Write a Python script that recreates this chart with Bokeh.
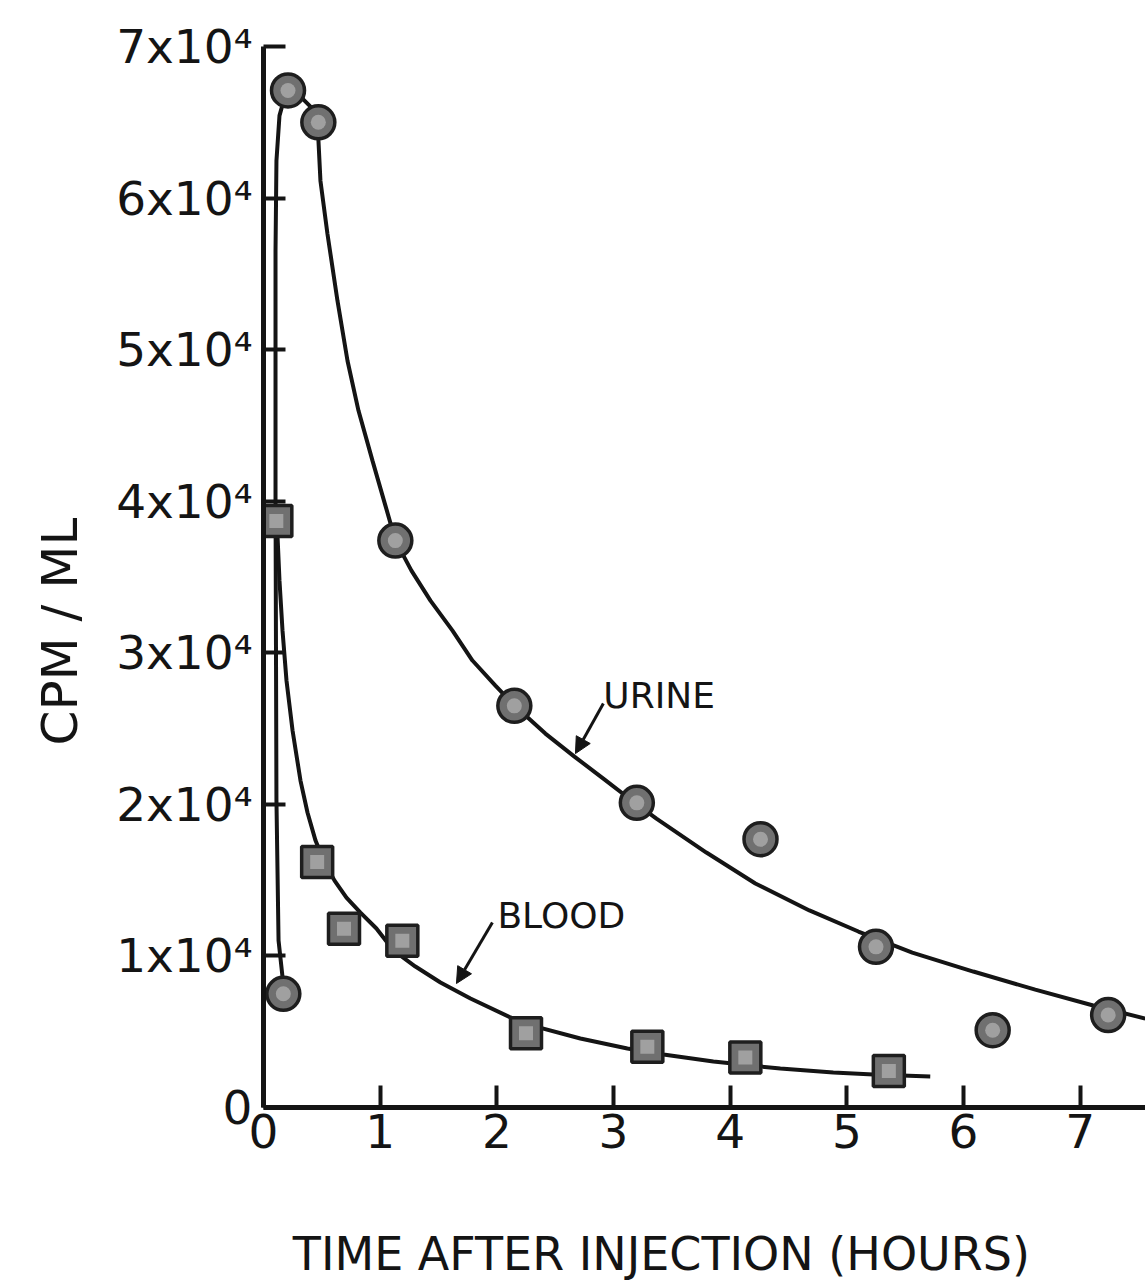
from bokeh.plotting import figure
from bokeh.layouts import column
from bokeh.models import FixedTicker, Label, Arrow, NormalHead, ColumnDataSource, Title
from bokeh.core.properties import value
from bokeh.embed import file_html
from bokeh.resources import INLINE

# ---- data ----
# Urine (circles): time in hours, CPM/ML
urine_t = [0.17, 0.21, 0.47, 1.13, 2.15, 3.20, 4.26, 5.25, 6.25, 7.24]
urine_cpm = [7500, 67100, 65000, 37400, 26500, 20100, 17700, 10600, 5100, 6100]

# Blood (squares)
blood_t = [0.11, 0.46, 0.69, 1.19, 2.25, 3.29, 4.13, 5.36]
blood_cpm = [38700, 16200, 11800, 11000, 4900, 4000, 3300, 2400]

# hand-drawn fitted curves
urine_curve_t = [0.171, 0.129, 0.111, 0.103, 0.103, 0.111, 0.137, 0.180, 0.231, 0.317,
                 0.403, 0.471, 0.471, 0.488, 0.548, 0.634, 0.720, 0.814, 0.934, 1.045,
                 1.131, 1.268, 1.431, 1.620, 1.791, 1.988, 2.151, 2.416, 2.665, 2.913,
                 3.145, 3.368, 3.796, 4.216, 4.679, 5.099, 5.561, 6.084, 6.615, 7.112,
                 7.558]
urine_curve_cpm = [8050, 11020, 20250, 40040, 56530, 62470, 65440, 66620, 67080, 66690,
                   66030, 65040, 63790, 61150, 57650, 53230, 49270, 45980, 42680, 39710,
                   37400, 35420, 33440, 31460, 29490, 27840, 26520, 24670, 23150, 21700,
                   20320, 19060, 16820, 14780, 13000, 11610, 10220, 8970, 7780, 6730,
                   5870]

blood_curve_t = [0.111, 0.120, 0.137, 0.163, 0.197, 0.249, 0.317, 0.377, 0.446, 0.523,
                 0.609, 0.711, 0.831, 0.968, 1.114, 1.302, 1.517, 1.774, 2.117, 2.262,
                 2.716, 3.119, 3.428, 3.856, 4.430, 4.884, 5.227, 5.715]
blood_curve_cpm = [38650, 37730, 34760, 31460, 28170, 24870, 21570, 19460, 17610, 16160,
                   14970, 13850, 12860, 11810, 10360, 9300, 8250, 7190, 5940, 5480,
                   4550, 3890, 3500, 3030, 2570, 2310, 2180, 2050]

x_ticks = [0, 1, 2, 3, 4, 5, 6, 7]
y_ticks = [0, 10000, 20000, 30000, 40000, 50000, 60000, 70000]
y_tick_labels = ["0", "1x10⁴", "2x10⁴", "3x10⁴", "4x10⁴", "5x10⁴", "6x10⁴", "7x10⁴"]

x_title = "TIME AFTER INJECTION (HOURS)"
y_title = "CPM / ML"

FONT = "DejaVu Sans"
INK = "#141414"

p = figure(width=1145, height=1190, x_range=(0, 7.56), y_range=(0, 70000),
           output_backend="svg", toolbar_location=None,
           min_border_left=263, min_border_right=0, min_border_top=46,
           min_border_bottom=83)
p.outline_line_color = None
p.grid.visible = False
p.background_fill_color = "white"
p.border_fill_color = "white"

# axes
for ax in (p.xaxis[0], p.yaxis[0]):
    ax.axis_line_color = INK
    ax.axis_line_width = 5
    ax.major_tick_line_color = INK
    ax.major_tick_line_width = 4
    ax.major_tick_in = 22
    ax.major_tick_out = 0
    ax.minor_tick_line_color = None
    ax.major_label_text_font = FONT
    ax.major_label_text_font_size = "47px"
    ax.major_label_text_color = INK

p.xaxis.ticker = FixedTicker(ticks=x_ticks)
p.xaxis.major_label_standoff = 6
p.yaxis.ticker = FixedTicker(ticks=y_ticks)
p.yaxis.major_label_overrides = {t: s for t, s in zip(y_ticks, y_tick_labels)}
p.yaxis.major_label_standoff = 11

# vertical axis title
p.add_layout(Title(text=y_title, align="left", offset=362,
                   text_font=FONT, text_font_size="50px", text_font_style="normal",
                   text_color=INK, standoff=50), "left")

# curves
p.line(urine_curve_t, urine_curve_cpm, line_color=INK, line_width=4)
p.line(blood_curve_t, blood_curve_cpm, line_color=INK, line_width=4)

# markers
us = ColumnDataSource(dict(t=urine_t, v=urine_cpm))
bs = ColumnDataSource(dict(t=blood_t, v=blood_cpm))
p.scatter("t", "v", source=bs, marker="square", size=31, fill_color="#707070",
          line_color="#1e1e1e", line_width=3.5)
p.scatter("t", "v", source=bs, marker="square", size=14, fill_color="#c8c8c8",
          fill_alpha=0.55, line_color=None)
p.scatter("t", "v", source=us, marker="circle", size=33, fill_color="#707070",
          line_color="#1e1e1e", line_width=3.5)
p.scatter("t", "v", source=us, marker="circle", size=15, fill_color="#c8c8c8",
          fill_alpha=0.55, line_color=None)

# series labels with arrows
p.add_layout(Label(x=2.913, y=27180, text="URINE", text_font=FONT, text_font_size="36px",
                   text_color=INK, text_baseline="alphabetic"))
p.add_layout(Label(x=2.005, y=12660, text="BLOOD", text_font=FONT, text_font_size="36px",
                   text_color=INK, text_baseline="alphabetic"))
p.add_layout(Arrow(x_start=2.913, y_start=26650, x_end=2.674, y_end=23350,
                   line_color=INK, line_width=3,
                   end=NormalHead(size=16, fill_color=INK, line_color=INK)))
p.add_layout(Arrow(x_start=1.962, y_start=12200, x_end=1.654, y_end=8180,
                   line_color=INK, line_width=3,
                   end=NormalHead(size=16, fill_color=INK, line_color=INK)))

# strip below the chart carrying the horizontal axis title
t = figure(width=1145, height=90, x_range=p.x_range, y_range=(0, 1),
           output_backend="svg", toolbar_location=None,
           min_border_left=263, min_border_right=0, min_border_top=0, min_border_bottom=0)
t.axis.visible = False
t.grid.visible = False
t.outline_line_color = None
t.border_fill_color = "white"
t.text(x=[3.41], y=[0.29], text=[x_title], text_font=value(FONT), text_font_size="46px",
       text_color=INK, text_align="center", text_baseline="middle")

layout = column(p, t, spacing=0)
open("out.html", "w").write(file_html(layout, INLINE))
